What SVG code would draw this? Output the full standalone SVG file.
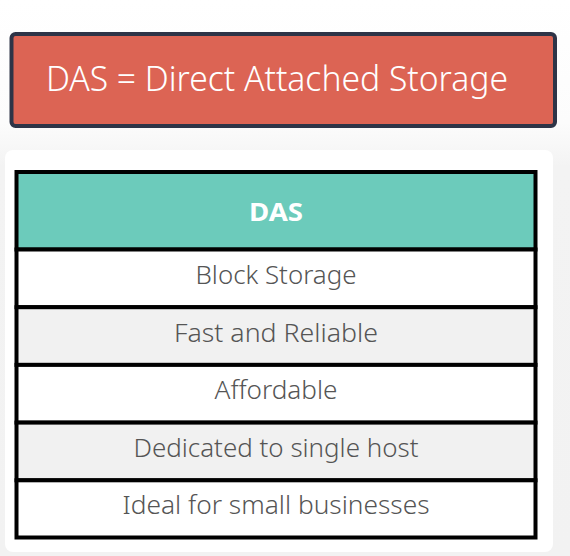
<svg xmlns="http://www.w3.org/2000/svg" width="570" height="556" viewBox="0 0 570 556">
<defs>
<linearGradient id="bg" x1="0" y1="0" x2="0" y2="1">
<stop offset="0" stop-color="#ffffff"/>
<stop offset="0.22" stop-color="#fcfcfc"/>
<stop offset="0.3" stop-color="#f3f3f3"/>
<stop offset="1" stop-color="#f2f2f2"/>
</linearGradient>
</defs>
<style>
.row{font-family:"Noto Sans","Open Sans",sans-serif;font-size:26px;font-weight:300;fill:#555555;text-anchor:middle}
.cell{stroke:#000;stroke-width:4}
.alt{fill:#f1f1f1}
.wh{fill:#ffffff}
</style>
<rect x="0" y="0" width="570" height="556" fill="url(#bg)"/>
<rect x="5" y="150" width="548" height="402" rx="8" fill="#ffffff"/>
<g id="title">
<rect x="11.5" y="34" width="543.5" height="92" rx="4" fill="#dc6454" stroke="#2e3447" stroke-width="4"/>
<text x="46" y="91" font-family="Noto Sans, Open Sans, sans-serif" font-size="35" font-weight="300" fill="#ffffff" textLength="462" lengthAdjust="spacingAndGlyphs">DAS = Direct Attached Storage</text>
</g>
<g id="table">
<g id="header">
<rect x="16.5" y="172" width="519" height="77.5" fill="#6ccbbb" class="cell"/>
<text x="276" y="221" font-family="Noto Sans, Open Sans, sans-serif" font-size="25" font-weight="bold" fill="#ffffff" text-anchor="middle" textLength="54" lengthAdjust="spacingAndGlyphs">DAS</text>
</g>
<g id="row1">
<rect x="16.5" y="249.5" width="519" height="57.7" class="cell wh"/>
<text x="276" y="284" class="row" textLength="161" lengthAdjust="spacingAndGlyphs">Block Storage</text>
</g>
<g id="row2">
<rect x="16.5" y="307.2" width="519" height="57.7" class="cell alt"/>
<text x="276" y="342" class="row" textLength="204" lengthAdjust="spacingAndGlyphs">Fast and Reliable</text>
</g>
<g id="row3">
<rect x="16.5" y="364.9" width="519" height="57.7" class="cell wh"/>
<text x="276" y="399" class="row" textLength="123" lengthAdjust="spacingAndGlyphs">Affordable</text>
</g>
<g id="row4">
<rect x="16.5" y="422.6" width="519" height="57.7" class="cell alt"/>
<text x="276" y="457" class="row" textLength="285" lengthAdjust="spacingAndGlyphs">Dedicated to single host</text>
</g>
<g id="row5">
<rect x="16.5" y="480.3" width="519" height="57.2" class="cell wh"/>
<text x="276" y="514" class="row" textLength="307" lengthAdjust="spacingAndGlyphs">Ideal for small businesses</text>
</g>
</g>
<g id="connectors"/>
</svg>
